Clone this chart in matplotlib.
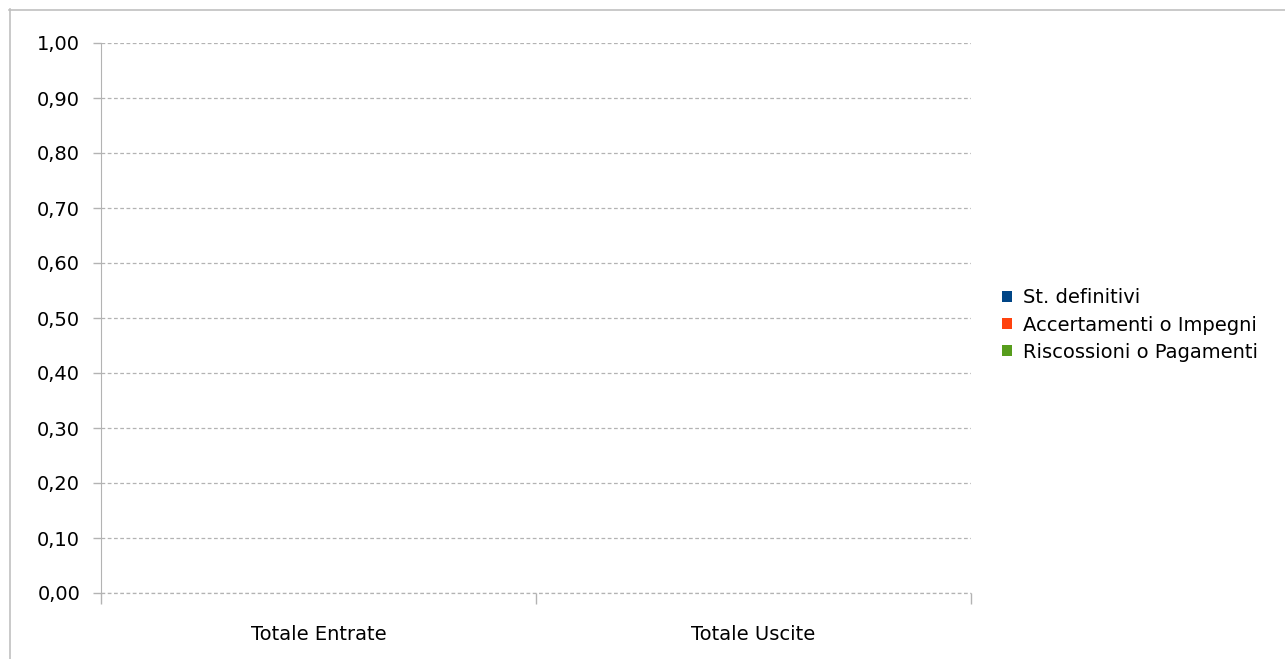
import matplotlib
matplotlib.use("Agg")
import matplotlib.pyplot as plt
from matplotlib.patches import Patch
from matplotlib.lines import Line2D
import numpy as np

categories = ["Totale Entrate", "Totale Uscite"]
series_names = ["St. definitivi", "Accertamenti o Impegni", "Riscossioni o Pagamenti"]
series_values = [
    [0.0, 0.0],
    [0.0, 0.0],
    [0.0, 0.0],
]
series_colors = ["#004586", "#ff420e", "#579d1c"]
y_ticks = [0.0, 0.1, 0.2, 0.3, 0.4, 0.5, 0.6, 0.7, 0.8, 0.9, 1.0]

plt.rcParams['font.family'] = ['DejaVu Sans']
fig = plt.figure(figsize=(12.85, 6.59), dpi=100)
ax = fig.add_axes([101/1285, 1 - 593/659, (971 - 101)/1285, (593 - 43)/659])

x = np.arange(len(categories))
width = 0.2
for i, (name, vals) in enumerate(zip(series_names, series_values)):
    ax.bar(x + (i - 1)*width, vals, width, color=series_colors[i], label=name)

ax.set_xlim(-0.5, len(categories) - 0.5)
ax.set_ylim(0, 1)
ax.set_yticks(y_ticks)
ax.set_yticklabels([f"{v:.2f}".replace(".", ",") for v in y_ticks], fontsize=14)
ax.yaxis.grid(True, color="#b3b3b3", linestyle=(0, (3, 2)), linewidth=0.9)
ax.axhline(0, color="#b3b3b3", linestyle=(0, (3, 2)), linewidth=0.9, clip_on=False)
ax.set_axisbelow(True)

ax.set_xticks(np.arange(-0.5, len(categories)))
ax.set_xticklabels([])
ax.set_xticks(x, minor=True)
ax.set_xticklabels(categories, minor=True, fontsize=14)
ax.tick_params(axis="x", which="major", length=8, color="#b3b3b3", width=1)
ax.tick_params(axis="x", which="minor", length=0, pad=23)
ax.tick_params(axis="y", length=6, color="#b3b3b3", width=1, pad=9)

for s in ["top", "right", "bottom"]:
    ax.spines[s].set_visible(False)
ax.spines["left"].set_color("#b3b3b3")

handles = [Patch(facecolor=c, edgecolor="none") for c in series_colors]
fig.legend(handles, series_names, loc="center left", bbox_to_anchor=(1002/1285, 1 - 325/659),
           frameon=False, fontsize=14, handlelength=0.5, handleheight=0.5,
           handletextpad=0.6, labelspacing=0.42, borderpad=0, borderaxespad=0)

# outer border
fig.add_artist(Line2D([9/1285, 1], [1 - 9.5/659, 1 - 9.5/659], color="#c0c0c0", lw=1.2, transform=fig.transFigure))
fig.add_artist(Line2D([9.5/1285, 9.5/1285], [0, 1 - 9/659], color="#c0c0c0", lw=1.2, transform=fig.transFigure))

fig.savefig("out.png", dpi=100)
